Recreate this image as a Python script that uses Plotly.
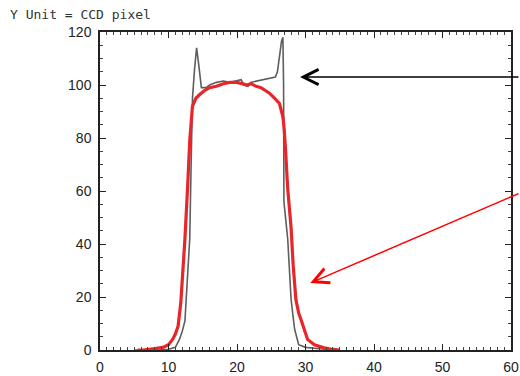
import plotly.graph_objects as go

# Measured profile (gray/black)
meas_x = [5, 9, 10, 11, 11.6, 12.0, 12.4, 12.8, 13.1, 13.3, 13.5, 13.8, 14.1, 14.4, 14.8,
          15.5, 16, 17, 18, 19, 20, 20.6, 21, 21.6, 22, 23, 24, 25, 25.6, 25.9, 26.2,
          26.5, 26.7, 26.8, 26.85, 27.4, 27.9, 28.4, 29, 30, 32, 35]
meas_y = [0, 0, 0.3, 1, 4, 7, 11, 27, 42, 70, 95, 106, 114, 108, 99,
          99, 100, 101, 101.5, 101, 101.5, 102, 100, 99.5, 101, 101.5, 102, 102.5, 103, 105, 110,
          116.5, 118, 100, 56, 42, 19, 8, 2, 1, 0.5, 0]

# Smoothed / model profile (red)
model_x = [5.5, 6.3, 8, 9.2, 10, 10.6, 11.0, 11.4, 11.8, 12.0, 12.4, 12.8, 13.1, 13.5, 14,
           14.6, 15.3, 16, 17, 18, 19, 20, 21, 21.5, 22, 22.8, 23.5, 24.2, 24.7, 25.5, 26.2,
           26.7, 26.9, 27.1, 27.4, 27.9, 28.2, 28.6, 29.0, 29.4, 29.8, 30.3, 31.3, 32.7, 34, 35]
model_y = [0, 0, 0.5, 1, 2, 4, 6, 9, 18, 25, 42, 62, 79, 92, 95,
           96.5, 98, 99, 99.5, 100.5, 101, 101, 100.5, 100, 100.5, 99.5, 99, 98, 97, 95, 93,
           88, 83, 75, 61, 46, 32, 19, 14, 11, 7.6, 4, 2, 0.8, 0.2, 0]

x_ticks = [0, 10, 20, 30, 40, 50, 60]
y_ticks = [0, 20, 40, 60, 80, 100, 120]
title_text = "Y Unit = CCD pixel"

FONT = "Liberation Sans, Arial, sans-serif"
L, R, T, B, W, H = 100, 9, 32, 26, 520, 376
PW = W - L - R

fig = go.Figure()
fig.add_trace(go.Scatter(x=meas_x, y=meas_y, mode="lines",
                         line=dict(color="#5e5e5e", width=1.6), showlegend=False))
fig.add_trace(go.Scatter(x=model_x, y=model_y, mode="lines",
                         line=dict(color="#e8262a", width=3.2), showlegend=False))

axis_common = dict(showline=True, linecolor="#222222", linewidth=1.5, mirror="allticks",
                   ticks="inside", ticklen=6, tickwidth=1.2, tickcolor="#222222",
                   showgrid=False, zeroline=False, automargin=False,
                   tickfont=dict(family=FONT, size=14, color="#222222"))

fig.update_xaxes(range=[0, 60], tickvals=x_ticks, ticktext=[str(v) for v in x_ticks],
                 ticklabelstandoff=3,
                 minor=dict(dtick=1, ticks="inside", ticklen=3, tickcolor="#444444", showgrid=False),
                 **axis_common)
fig.update_yaxes(range=[0, 120], tickvals=y_ticks, ticktext=[str(v) for v in y_ticks],
                 ticklabelstandoff=4,
                 minor=dict(dtick=5, ticks="inside", ticklen=3, tickcolor="#444444", showgrid=False),
                 **axis_common)

# Arrows
fig.add_annotation(x=29.2, y=103, ax=220, ay=0, xref="x", yref="y", axref="pixel", ayref="pixel",
                   showarrow=True, arrowhead=5, arrowsize=2, arrowwidth=1.5, arrowcolor="#000000", text="")
fig.add_annotation(x=30.7, y=25.3, ax=210, ay=-90, xref="x", yref="y", axref="pixel", ayref="pixel",
                   showarrow=True, arrowhead=5, arrowsize=2, arrowwidth=1.5, arrowcolor="#ff0000", text="")

# Title text at top-left
fig.add_annotation(x=(8 - L) / PW, y=1 + (T - 14) / (H - T - B), xref="paper", yref="paper",
                   xanchor="left", yanchor="middle", showarrow=False, text=title_text,
                   font=dict(family="DejaVu Sans Mono, monospace", size=13, color="#333333"))

fig.update_layout(
    width=W, height=H,
    margin=dict(l=L, r=R, t=T, b=B, autoexpand=False),
    paper_bgcolor="white", plot_bgcolor="white",
    showlegend=False,
)

fig.write_html("out.html", config={"displayModeBar": False},
               post_script="document.body.style.margin='0';document.body.style.overflow='hidden';")
